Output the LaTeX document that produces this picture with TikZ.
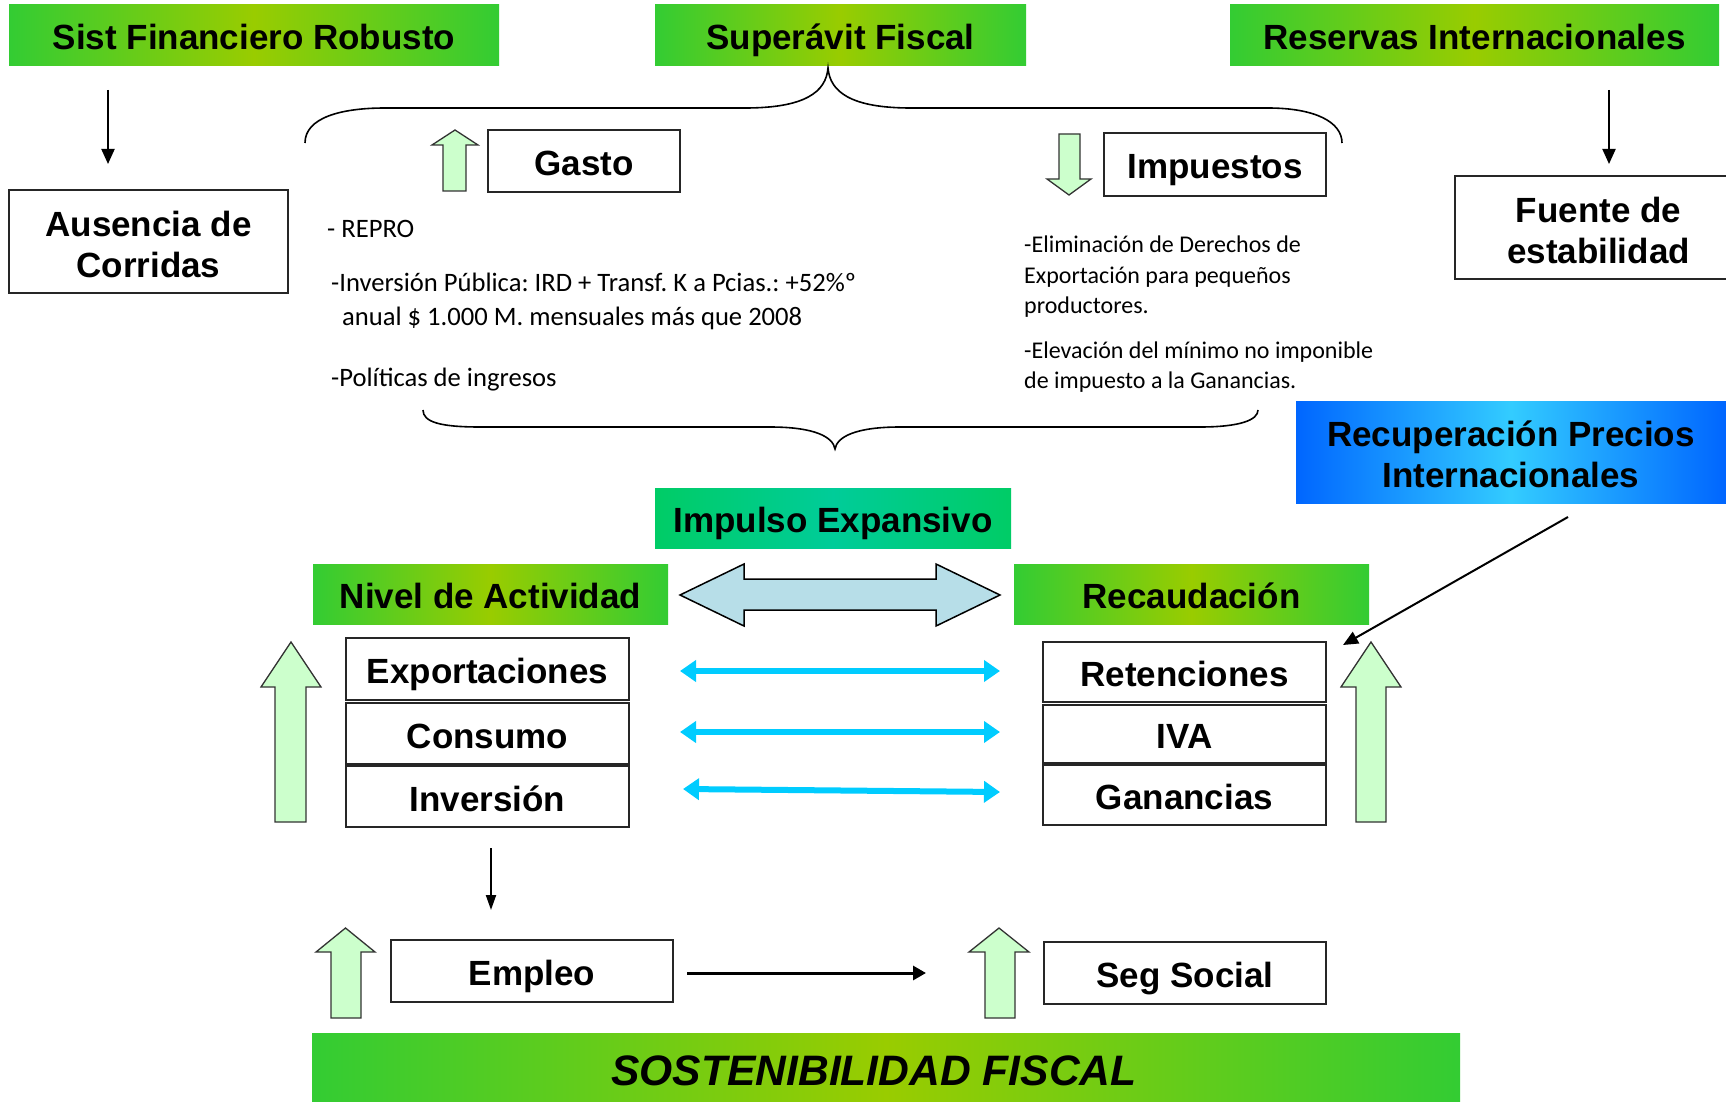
\documentclass[tikz,border=0pt]{standalone}
\usepackage{fontspec}
\setmainfont{Liberation Sans}
\newfontfamily\calfont{Carlito}
\usetikzlibrary{arrows.meta}
\frenchspacing
\definecolor{gEdge}{HTML}{33CC33}
\definecolor{gMid}{HTML}{99CC00}
\definecolor{bEdge}{HTML}{0066FF}
\definecolor{bMid}{HTML}{33CCFF}
\definecolor{tEdge}{HTML}{00CC66}
\definecolor{tMid}{HTML}{00CC99}
\definecolor{paleGreen}{HTML}{CCFFCC}
\definecolor{paleBlue}{HTML}{B7DEE8}
\definecolor{cyanArr}{HTML}{00CCFF}
\newcommand\lab{\fontsize{35}{41}\selectfont\bfseries}
\newcommand\smallL{\calfont\fontsize{26.6}{30}\selectfont}
\newcommand\smallR{\calfont\fontsize{24}{30}\selectfont}
\newcommand\topstrut{\rule{0pt}{31pt}}
\newcommand\rectnode[7]{\node[#2, minimum width={#5-#3}, minimum height={#6-#4}] (#1) at ({(#3+#5)/2},{(#4+#6)/2}) {#7};}
% left, right, shaftL, shaftR, tip, headbase, bottom
\newcommand\garrowup[7]{\filldraw[arrshape] (#3,#7) -- (#3,#6) -- (#1,#6) -- ({(#1+#2)/2},#5) -- (#2,#6) -- (#4,#6) -- (#4,#7) -- cycle;}
\tikzset{
  base box/.style={inner sep=0pt, outer sep=0pt, align=center, text=black, font=\lab},
  gbox/.style={base box, left color=gEdge, right color=gEdge, middle color=gMid},
  bbox/.style={base box, left color=bEdge, right color=bEdge, middle color=bMid},
  tbox/.style={base box, left color=tEdge, right color=tEdge, middle color=tMid},
  wbox/.style={base box, draw=black!85, line width=1.8pt, fill=white},
  oneline/.style={text height=29pt, text depth=0pt},
  arrshape/.style={fill=paleGreen, draw=black!80, line width=1.3pt},
  blk/.style={draw=black, line width=2pt, -{Triangle[length=15pt,width=13pt]}},
  cyanline/.style={draw=cyanArr, line width=6pt, {Triangle[length=16pt,width=21pt]}-{Triangle[length=16pt,width=21pt]}},
  brace/.style={draw=black, line width=1.6pt},
  txtL/.style={anchor=base west, inner sep=0pt, font=\smallL},
  txtR/.style={anchor=base west, inner sep=0pt, font=\smallR},
}
\begin{document}
\begin{tikzpicture}[x=1pt,y=-1pt]
\useasboundingbox (0,0) rectangle (1726,1102);
\fill[white] (0,0) rectangle (1726,1102);

% top green boxes
\rectnode{sfr}{gbox,oneline}{9}{5}{499}{66}{Sist Financiero Robusto}
\rectnode{sup}{gbox,oneline}{655}{5}{1026}{66}{Superávit Fiscal}
\rectnode{res}{gbox,oneline}{1230}{5}{1719}{66}{Reservas Internacionales}

% side boxes
\rectnode{aus}{wbox}{9}{190}{288}{293}{\topstrut Ausencia de\\Corridas}
\rectnode{fue}{wbox}{1455}{176}{1742}{279}{\topstrut Fuente de\\estabilidad}
\coordinate (a1s) at (108,90); \coordinate (a1e) at (108,164);
\draw[blk] (a1s) -- (a1e);
\coordinate (a2s) at (1609,90); \coordinate (a2e) at (1609,164);
\draw[blk] (a2s) -- (a2e);

% top brace
\draw[brace] (305,143) .. controls (305,118) and (340,108) .. (385,108) -- (745,108)
  .. controls (805,108) and (826,92) .. (828,68)
  .. controls (830,92) and (851,108) .. (911,108) -- (1268,108)
  .. controls (1315,108) and (1342,122) .. (1342,143);

% Gasto / Impuestos
\garrowup{432}{478}{443}{466}{130}{145}{191}
\rectnode{gas}{wbox,oneline}{488}{130}{680}{192}{Gasto}
\filldraw[arrshape] (1059,134) -- (1059,179) -- (1047,179) -- (1069,195) -- (1091,179) -- (1080,179) -- (1080,134) -- cycle;
\rectnode{imp}{wbox,oneline}{1104}{133}{1326}{196}{Impuestos}

% text lists
\node[txtL] (t1) at (327,237) {- REPRO};
\node[txtL] (t2) at (331,291) {-Inversión Pública: IRD + Transf. K a Pcias.: +52\%º};
\node[txtL] (t3) at (342,325) {anual \$ 1.000 M. mensuales más que 2008};
\node[txtL] (t4) at (331,386) {-Políticas de ingresos};
\node[txtR] (t5) at (1024,252) {-Eliminación de Derechos de};
\node[txtR] (t6) at (1024,283) {Exportación para pequeños};
\node[txtR] (t7) at (1024,313) {productores.};
\node[txtR] (t8) at (1024,358) {-Elevación del mínimo no imponible};
\node[txtR] (t9) at (1024,388) {de impuesto a la Ganancias.};

% bottom brace
\draw[brace] (423,410) .. controls (423,422) and (440,427) .. (480,427) -- (770,427)
  .. controls (815,427) and (833,437) .. (835,449)
  .. controls (837,437) and (855,427) .. (900,427) -- (1200,427)
  .. controls (1240,427) and (1258,420) .. (1258,410);

% Recuperacion
\rectnode{rec}{bbox}{1296}{401}{1726}{503}{\topstrut Recuperación Precios\\Internacionales}

% middle
\rectnode{imx}{tbox,oneline}{655}{488}{1011}{548}{Impulso Expansivo}
\rectnode{niv}{gbox,oneline}{313}{564}{668}{624}{Nivel de Actividad}
\rectnode{rcd}{gbox,oneline}{1014}{564}{1369}{624}{Recaudación}
\filldraw[fill=paleBlue, draw=black, line width=1.5pt] (680,595) -- (744,564) -- (744,579) -- (936,579) -- (936,564) -- (1000,595) -- (936,626) -- (936,610) -- (744,610) -- (744,626) -- cycle;

% stacks
\rectnode{exp}{wbox,oneline}{346}{638}{629}{700}{Exportaciones}
\rectnode{con}{wbox,oneline}{346}{703}{629}{764}{Consumo}
\rectnode{inv}{wbox,oneline}{346}{766}{629}{827}{Inversión}
\rectnode{ret}{wbox,oneline}{1043}{642}{1326}{702}{Retenciones}
\rectnode{iva}{wbox,oneline}{1043}{705}{1326}{763}{IVA}
\rectnode{gan}{wbox,oneline}{1043}{765}{1326}{825}{Ganancias}

\garrowup{261}{321}{275}{306}{642}{687}{822}
\garrowup{1341}{1401}{1356}{1386}{642}{687}{822}

% cyan arrows
\coordinate (c1l) at (680,671); \coordinate (c1r) at (1000,671);
\coordinate (c2l) at (680,732); \coordinate (c2r) at (1000,732);
\coordinate (c3l) at (683,789); \coordinate (c3r) at (1000,792);
\draw[cyanline] (c1l) -- (c1r);
\draw[cyanline] (c2l) -- (c2r);
\draw[cyanline] (c3l) -- (c3r);

% diagonal arrow
\coordinate (d1) at (1568,517); \coordinate (d2) at (1343,645);
\draw[blk] (d1) -- (d2);

% employment row
\coordinate (v1) at (491,848); \coordinate (v2) at (491,910);
\draw[draw=black, line width=2pt, -{Triangle[length=15pt,width=10pt]}] (v1) -- (v2);
\garrowup{316}{375}{331}{361}{928}{952}{1018}
\rectnode{emp}{wbox,oneline}{391}{940}{673}{1002}{Empleo}
\coordinate (h1) at (687,973); \coordinate (h2) at (926,973);
\draw[draw=black, line width=3pt, -{Triangle[length=13pt,width=14pt]}] (h1) -- (h2);
\garrowup{969}{1029}{985}{1015}{928}{952}{1018}
\rectnode{seg}{wbox,oneline}{1044}{942}{1326}{1004}{Seg Social}

% bottom bar
\rectnode{sos}{gbox,font=\fontsize{42.6}{50}\selectfont\bfseries\itshape,text height=28pt,text depth=0pt}{312}{1033}{1460}{1110}{SOSTENIBILIDAD FISCAL\kern24pt}
\end{tikzpicture}
\end{document}
